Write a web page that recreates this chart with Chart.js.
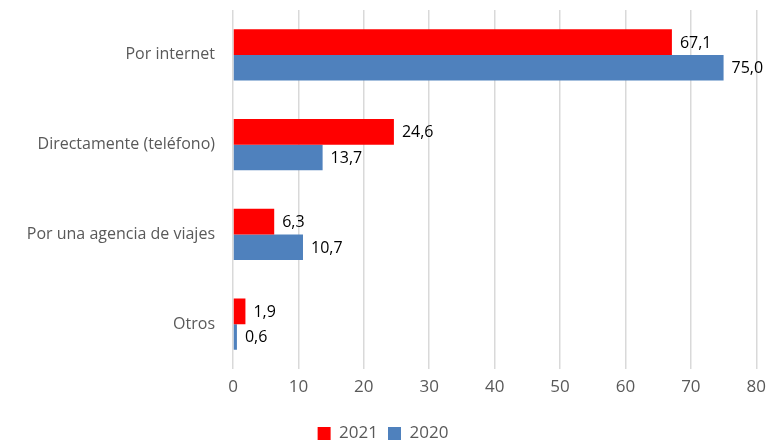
<!DOCTYPE html>
<html>
<head>
<meta charset="utf-8">
<script src="https://cdn.jsdelivr.net/npm/chart.js@4/dist/chart.umd.min.js"></script>
<style>
  html, body { margin: 0; padding: 0; background: #fff; }
  #wrap { width: 774px; height: 441px; }
</style>
</head>
<body>
<div id="wrap"><canvas id="chart"></canvas></div>
<script>
// ================= DATA =================
const categories = ["Por internet", "Directamente (teléfono)", "Por una agencia de viajes", "Otros"];
const values2021 = [67.1, 24.6, 6.3, 1.9];
const values2020 = [75.0, 13.7, 10.7, 0.6];
const seriesNames = ["2021", "2020"];

const FONT = "'Open Sans', sans-serif";

// ================= VALUE LABELS =================
const valueLabels = {
  id: "valueLabels",
  afterDatasetsDraw(chart) {
    const ctx = chart.ctx;
    ctx.save();
    ctx.font = `16px ${FONT}`;
    ctx.fillStyle = "#000";
    ctx.textBaseline = "middle";
    ctx.textAlign = "left";
    chart.data.datasets.forEach((ds, i) => {
      chart.getDatasetMeta(i).data.forEach((bar, j) => {
        const txt = ds.data[j].toFixed(1).replace(".", ",");
        ctx.fillText(txt, bar.x + 8, bar.y + 1);
      });
    });
    ctx.restore();
  },
};

// legend sits lower than chart.js puts it: force its height
const legendHeight = {
  id: "legendHeight",
  beforeLayout(chart) {
    const lg = chart.legend;
    if (lg && !lg._fixed) {
      const fit = lg.fit;
      lg.fit = function () {
        fit.call(this);
        this.height = 26;
      };
      lg._fixed = true;
    }
  },
};

// ================= CHART =================
new Chart(document.getElementById("chart"), {
  type: "bar",
  data: {
    labels: categories,
    datasets: [
      { label: seriesNames[0], data: values2021, backgroundColor: "#ff0000" },
      { label: seriesNames[1], data: values2020, backgroundColor: "#4f81bd" },
    ],
  },
  options: {
    indexAxis: "y",
    responsive: true,
    maintainAspectRatio: false,
    animation: false,
    layout: { padding: { top: 10, right: 8, left: 0, bottom: 0 } },
    datasets: { bar: { categoryPercentage: 0.57, barPercentage: 1.0 } },
    scales: {
      x: {
        min: 0,
        max: 80,
        ticks: { stepSize: 10, color: "#595959", font: { family: FONT, size: 17 }, padding: 8 },
        grid: { color: "#d9d9d9", lineWidth: 1.5, drawTicks: false },
        border: { display: false },
        afterFit: (s) => { s.height = 46; },
      },
      y: {
        ticks: { color: "#595959", font: { family: FONT, size: 16 }, padding: 18 },
        grid: { display: false, drawTicks: false },
        border: { display: false },
        afterFit: (s) => { s.width = 233; s.paddingTop = 0; s.paddingBottom = 0; },
      },
    },
    plugins: {
      legend: {
        position: "bottom",
        labels: {
          color: "#595959",
          font: { family: FONT, size: 17 },
          boxWidth: 13,
          boxHeight: 13,
          padding: 10,
        },
      },
      tooltip: { enabled: false },
    },
  },
  plugins: [valueLabels, legendHeight],
});
</script>
</body>
</html>
